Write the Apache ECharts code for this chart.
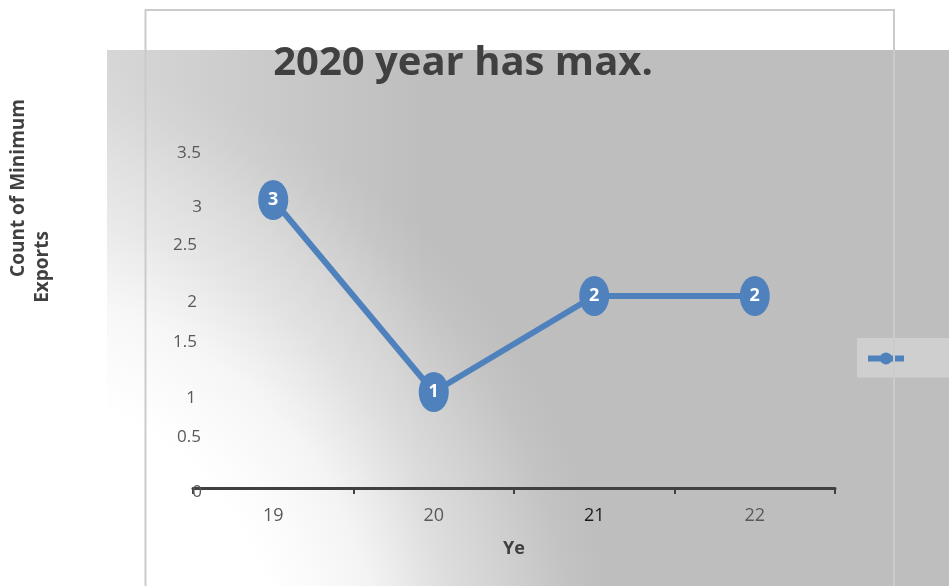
<!DOCTYPE html>
<html>
<head>
<meta charset="utf-8">
<script src="https://cdn.jsdelivr.net/npm/echarts@6/dist/echarts.min.js"></script>
<style>
  html, body { margin: 0; padding: 0; background: #ffffff; }
  #chart { width: 949px; height: 586px; }
</style>
</head>
<body>
<div id="chart"></div>
<script>
// Chart content
const years = ['19', '20', '21', '22'];
const minExportCounts = [3, 1, 2, 2];
const yMin = 0;
const yMax = 3.5;
const yStep = 0.5;
const titleText = '2020 year has max.';
const yAxisTitleLines = ['Count of Minimum', 'Exports'];
const xAxisTitle = 'Ye';
const seriesName = 'Count of Minimum Exports';

const FONT = '"Open Sans", Lato, sans-serif';
const BLUE = '#4f81bd';

// small per-label nudges [dx, dy] for the value axis labels
const yLabelNudge = {
  '0': [7, 4], '0.5': [-1, -3], '1': [1, 6], '1.5': [-5, -2],
  '2': [2, 6], '2.5': [-5, -3], '3': [7, 7], '3.5': [-1, 1]
};
const yRich = {};
const yRichKey = {};
Object.keys(yLabelNudge).forEach(function (k, i) {
  const d = yLabelNudge[k];
  yRichKey[k] = 'n' + i;
  yRich['n' + i] = {
    fontFamily: FONT, fontSize: 17, color: '#595959',
    padding: [Math.max(2 * d[1], 0), Math.max(-2 * d[0], 0), Math.max(-2 * d[1], 0), Math.max(2 * d[0], 0)]
  };
});

const chart = echarts.init(document.getElementById('chart'), null, { renderer: 'canvas' });

const option = {
  backgroundColor: '#ffffff',
  animation: false,
  grid: { left: 193, right: 114, top: 152, bottom: 98, containLabel: false },
  graphic: [
    {
      // shaded plot panel
      type: 'rect', z: -20, silent: true,
      shape: { x: 107, y: 50, width: 860, height: 560 },
      style: {
        fill: {
          type: 'radial', x: -10, y: 680, r: 650, global: true,
          colorStops: [
            { offset: 0, color: '#ffffff' },
            { offset: 0.45, color: '#ffffff' },
            { offset: 0.6, color: '#f3f3f3' },
            { offset: 0.72, color: '#dddddd' },
            { offset: 0.8, color: '#d2d2d2' },
            { offset: 0.9, color: '#c3c3c3' },
            { offset: 0.96, color: '#bebebe' },
            { offset: 1, color: '#bebebe' }
          ]
        }
      }
    },
    {
      // soft light wash along the left edge of the panel
      type: 'rect', z: -19, silent: true,
      shape: { x: 107, y: 50, width: 320, height: 560 },
      style: {
        fill: {
          type: 'linear', x: 0, y: 0, x2: 1, y2: 0,
          colorStops: [
            { offset: 0, color: 'rgba(255,255,255,0.38)' },
            { offset: 1, color: 'rgba(255,255,255,0)' }
          ]
        }
      }
    },
    {
      // outer frame
      type: 'polyline', z: 100, silent: true,
      shape: { points: [[145.5, 600], [145.5, 10], [894, 10], [894, 600]] },
      style: { stroke: '#cbcbcb', lineWidth: 2, fill: null }
    },
    {
      type: 'text', z: 100, silent: true,
      x: 463, y: 64,
      style: {
        text: titleText, font: 'bold 40px ' + FONT, fill: '#404040',
        align: 'center', verticalAlign: 'middle'
      }
    },
    {
      type: 'text', z: 100, silent: true,
      x: 19, y: 188, rotation: Math.PI / 2,
      style: {
        text: yAxisTitleLines[0], font: 'bold 19px ' + FONT, fill: '#404040',
        align: 'center', verticalAlign: 'middle'
      }
    },
    {
      type: 'text', z: 100, silent: true,
      x: 43, y: 267, rotation: Math.PI / 2,
      style: {
        text: yAxisTitleLines[1], font: 'bold 19px ' + FONT, fill: '#404040',
        align: 'center', verticalAlign: 'middle'
      }
    }
  ],
  legend: {
    show: true,
    left: 857, top: 338,
    padding: [13, 50, 13, 8],
    backgroundColor: '#cfcfcf',
    itemWidth: 36, itemHeight: 15,
    lineStyle: { width: 6 },
    formatter: function () { return ''; },
    data: [seriesName]
  },
  xAxis: {
    type: 'category',
    data: years,
    boundaryGap: true,
    name: xAxisTitle,
    nameLocation: 'middle',
    nameGap: 52,
    nameTextStyle: { fontFamily: FONT, fontSize: 18, fontWeight: 'bold', color: '#404040' },
    axisLine: { show: true, lineStyle: { color: '#404040', width: 3 } },
    axisTick: { show: true, alignWithLabel: false, length: 6, lineStyle: { color: '#404040', width: 2 } },
    axisLabel: {
      margin: 19, fontFamily: FONT, fontSize: 18,
      color: function (v) { return v === '21' ? '#1a1a1a' : '#595959'; }
    },
    splitLine: { show: false }
  },
  yAxis: {
    type: 'value',
    min: yMin, max: yMax, interval: yStep,
    axisLine: { show: false },
    axisTick: { show: false },
    splitLine: { show: false },
    axisLabel: {
      margin: 3, align: 'center', verticalAlign: 'middle',
      formatter: function (v) {
        const s = String(v);
        return '{' + (yRichKey[s] || 'n0') + '|' + s + '}';
      },
      rich: yRich
    }
  },
  series: [{
    name: seriesName,
    type: 'line',
    data: minExportCounts,
    symbol: 'circle',
    symbolSize: [30, 40],
    lineStyle: { color: BLUE, width: 6 },
    itemStyle: { color: BLUE },
    label: {
      show: true, position: 'inside',
      color: '#ffffff', fontFamily: FONT, fontSize: 18, fontWeight: 'bold'
    },
    z: 5
  }]
};

chart.setOption(option);
</script>
</body>
</html>
